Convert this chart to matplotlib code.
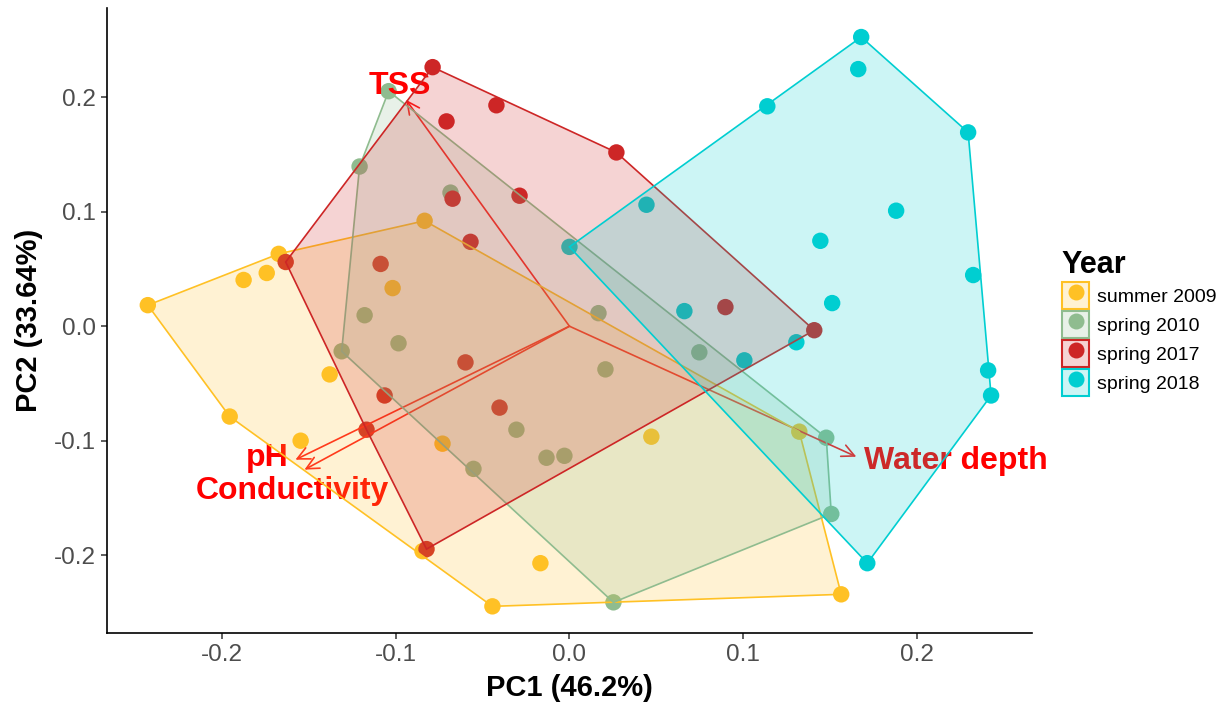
import numpy as np
import matplotlib
matplotlib.use("Agg")
import matplotlib.pyplot as plt
from matplotlib.patches import Polygon, Patch
from matplotlib.lines import Line2D
from matplotlib.legend_handler import HandlerTuple
from matplotlib.colors import to_rgba

plt.rcParams["font.family"] = ["Liberation Sans", "DejaVu Sans"]

# PCA site scores per sampling campaign
groups = ["summer 2009", "spring 2010", "spring 2017", "spring 2018"]
colors = ["#FFC125", "#8FBC8F", "#CD2626", "#00CED1"]

pc1_2009 = [-0.2425, -0.1874, -0.1741, -0.1672, -0.0833, -0.1017, -0.1379, -0.1954,
            -0.1546, -0.0730, 0.0471, 0.1322, -0.0845, -0.0167, -0.0443, 0.1563]
pc2_2009 = [0.0184, 0.0404, 0.0465, 0.0632, 0.0921, 0.0333, -0.0421, -0.0789,
            -0.1000, -0.1026, -0.0965, -0.0921, -0.1965, -0.2070, -0.2447, -0.2342]

pc1_2010 = [-0.1040, -0.1207, -0.0684, -0.1178, -0.1310, -0.0983, 0.0167, 0.0207,
            0.0747, -0.0305, -0.0552, -0.0132, -0.0029, 0.1477, 0.1506, 0.0253]
pc2_2010 = [0.2053, 0.1395, 0.1167, 0.0096, -0.0219, -0.0149, 0.0114, -0.0377,
            -0.0228, -0.0904, -0.1246, -0.1149, -0.1132, -0.0974, -0.1640, -0.2412]

pc1_2017 = [-0.0787, -0.0420, -0.0707, 0.0270, -0.0287, -0.0672, -0.0569, -0.1086,
            -0.1632, -0.0598, -0.1063, -0.1167, -0.0402, 0.0897, 0.1408, -0.0822]
pc2_2017 = [0.2263, 0.1930, 0.1789, 0.1518, 0.1140, 0.1114, 0.0737, 0.0544,
            0.0561, -0.0316, -0.0605, -0.0904, -0.0711, 0.0167, -0.0035, -0.1947]

pc1_2018 = [0.1678, 0.1661, 0.1138, 0.2293, 0.1879, 0.1443, 0.1511, 0.2322,
            0.0443, 0.0000, 0.0661, 0.1006, 0.1305, 0.2408, 0.2425, 0.1713]
pc2_2018 = [0.2526, 0.2246, 0.1921, 0.1693, 0.1009, 0.0746, 0.0202, 0.0447,
            0.1061, 0.0693, 0.0132, -0.0298, -0.0140, -0.0386, -0.0605, -0.2070]

pc1_all = [pc1_2009, pc1_2010, pc1_2017, pc1_2018]
pc2_all = [pc2_2009, pc2_2010, pc2_2017, pc2_2018]

# Environmental loadings (arrow tips) and label anchors
variables = ["TSS", "pH", "Conductivity", "Water depth"]
load_pc1 = [-0.0940, -0.1576, -0.1524, 0.1650]
load_pc2 = [0.1978, -0.1166, -0.1253, -0.1140]
label_pc1 = [-0.0974, -0.1736, -0.1596, 0.2220]
label_pc2 = [0.2100, -0.1148, -0.1437, -0.1175]


def convex_hull(xs, ys):
    pts = sorted(set(zip(xs, ys)))

    def cross(o, a, b):
        return (a[0] - o[0]) * (b[1] - o[1]) - (a[1] - o[1]) * (b[0] - o[0])

    lower, upper = [], []
    for p in pts:
        while len(lower) >= 2 and cross(lower[-2], lower[-1], p) <= 0:
            lower.pop()
        lower.append(p)
    for p in reversed(pts):
        while len(upper) >= 2 and cross(upper[-2], upper[-1], p) <= 0:
            upper.pop()
        upper.append(p)
    return np.array(lower[:-1] + upper[:-1])


fig = plt.figure(figsize=(12.25, 7.05), dpi=100)
ax = fig.add_axes([0.0873, 0.1021, 0.7551, 0.8866])

# points
for xs, ys, c in zip(pc1_all, pc2_all, colors):
    ax.scatter(xs, ys, s=140, color=c, edgecolors="none", zorder=2)

# loading arrows and labels
for x, y in zip(load_pc1, load_pc2):
    ax.annotate("", xy=(x, y), xytext=(0, 0),
                arrowprops=dict(arrowstyle="->,head_length=0.45,head_width=0.22",
                                color="#FF1A1A", lw=1.2, shrinkA=0, shrinkB=0,
                                mutation_scale=20),
                zorder=3)
for name, x, y in zip(variables, label_pc1, label_pc2):
    ax.text(x, y, name, color="#FF0000", fontsize=23, fontweight="bold",
            ha="center", va="center", zorder=3)

# hulls
for xs, ys, c in zip(pc1_all, pc2_all, colors):
    hull = convex_hull(xs, ys)
    ax.add_patch(Polygon(hull, closed=True, facecolor=to_rgba(c, 0.2),
                         edgecolor=c, lw=1.2, zorder=4))

ax.set_xlim(-0.266, 0.266)
ax.set_ylim(-0.268, 0.278)
ax.set_xticks([-0.2, -0.1, 0.0, 0.1, 0.2])
ax.set_yticks([-0.2, -0.1, 0.0, 0.1, 0.2])
ax.set_xticklabels(["-0.2", "-0.1", "0.0", "0.1", "0.2"])
ax.set_yticklabels(["-0.2", "-0.1", "0.0", "0.1", "0.2"])

for side in ["top", "right"]:
    ax.spines[side].set_visible(False)
for side in ["left", "bottom"]:
    ax.spines[side].set_linewidth(1.2)
    ax.spines[side].set_color("black")
ax.tick_params(axis="both", length=4, width=1.1, color="#333333",
               labelsize=17.5, labelcolor="#4D4D4D", pad=4)

ax.set_xlabel("PC1 (46.2%)", fontsize=21, fontweight="bold", labelpad=6)
ax.set_ylabel("PC2 (33.64%)", fontsize=21, fontweight="bold", labelpad=8)

# legend: tinted square key with the group's dot on top
handles = []
for c in colors:
    box = Patch(facecolor=to_rgba(c, 0.2), edgecolor=c, lw=1.5)
    dot = Line2D([], [], marker="o", ls="", color=c, markersize=11.5,
                 markeredgewidth=0)
    handles.append((box, dot))
leg = fig.legend(handles, groups, handler_map={tuple: HandlerTuple(ndivide=1)},
                 loc="center left", bbox_to_anchor=(0.8605, 0.542),
                 frameon=False, title="Year", alignment="left",
                 fontsize=14, handlelength=1.4, handleheight=1.76,
                 labelspacing=0.1, handletextpad=0.4, borderaxespad=0,
                 title_fontproperties={"size": 22, "weight": "bold"})

fig.savefig("out.png", dpi=100)
